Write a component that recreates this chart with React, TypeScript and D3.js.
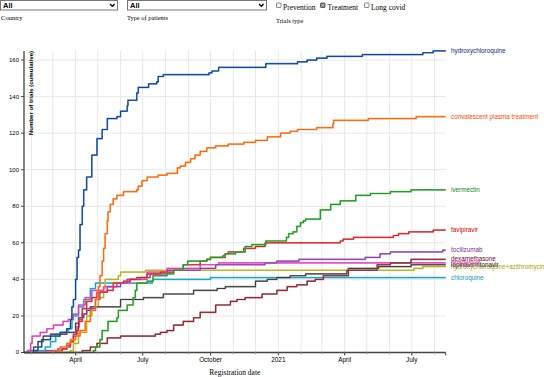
import React from "react";
import * as d3 from "d3";

const START = "2020-01-22";
const END = "2021-08-16";

const hydroxychloroquine: [string, number][] = [
  ["2020-02-04", 1], ["2020-02-10", 3], ["2020-02-15", 7], ["2020-02-27", 9], ["2020-03-11", 11],
  ["2020-03-20", 13], ["2020-03-25", 18], ["2020-03-27", 25], ["2020-03-29", 29], ["2020-04-01", 40],
  ["2020-04-03", 52], ["2020-04-05", 56], ["2020-04-07", 70], ["2020-04-10", 80], ["2020-04-12", 89],
  ["2020-04-16", 96], ["2020-04-23", 108], ["2020-04-30", 117], ["2020-05-07", 122], ["2020-05-14", 128],
  ["2020-05-27", 129], ["2020-06-01", 132], ["2020-06-10", 135], ["2020-06-11", 138], ["2020-06-23", 142],
  ["2020-06-25", 145], ["2020-07-09", 147], ["2020-07-20", 148], ["2020-07-22", 151], ["2020-07-29", 152],
  ["2020-09-29", 153], ["2020-10-03", 154], ["2020-10-12", 156], ["2020-12-15", 158], ["2021-01-27", 159],
  ["2021-02-09", 160], ["2021-02-22", 161], ["2021-03-08", 162], ["2021-04-25", 163], ["2021-07-16", 164],
  ["2021-07-30", 165],
];

const convalescentPlasma: [string, number][] = [
  ["2020-03-02", 1], ["2020-03-11", 3], ["2020-03-20", 5], ["2020-03-25", 7], ["2020-04-01", 9],
  ["2020-04-07", 12], ["2020-04-14", 17], ["2020-04-21", 23], ["2020-04-28", 29], ["2020-05-02", 36],
  ["2020-05-04", 42], ["2020-05-07", 50], ["2020-05-09", 57], ["2020-05-11", 65], ["2020-05-14", 72],
  ["2020-05-15", 77], ["2020-05-18", 81], ["2020-05-22", 84], ["2020-05-27", 86], ["2020-06-05", 88],
  ["2020-06-23", 89], ["2020-06-25", 91], ["2020-06-30", 94], ["2020-07-07", 96], ["2020-07-22", 97],
  ["2020-08-03", 98], ["2020-08-17", 101], ["2020-08-21", 102], ["2020-08-28", 104], ["2020-09-04", 106],
  ["2020-09-10", 108], ["2020-09-17", 110], ["2020-09-26", 112], ["2020-10-08", 113], ["2020-10-25", 114],
  ["2020-11-15", 115], ["2020-12-01", 116], ["2020-12-17", 118], ["2021-01-04", 120], ["2021-01-17", 121],
  ["2021-01-27", 122], ["2021-02-22", 123], ["2021-03-16", 125], ["2021-03-17", 127], ["2021-05-03", 128],
  ["2021-07-07", 129],
];

const ivermectin: [string, number][] = [
  ["2020-04-25", 1], ["2020-04-28", 3], ["2020-05-04", 7], ["2020-05-07", 12], ["2020-05-15", 17],
  ["2020-05-27", 19], ["2020-05-29", 23], ["2020-06-10", 26], ["2020-06-18", 30], ["2020-06-21", 34],
  ["2020-06-23", 38], ["2020-07-07", 39], ["2020-07-15", 42], ["2020-08-03", 43], ["2020-08-12", 45],
  ["2020-08-25", 48], ["2020-08-31", 50], ["2020-09-26", 51], ["2020-10-01", 52], ["2020-10-18", 53],
  ["2020-10-21", 54], ["2020-11-04", 55], ["2020-11-17", 58], ["2020-11-26", 59], ["2020-12-15", 61],
  ["2021-01-12", 63], ["2021-01-15", 65], ["2021-01-21", 66], ["2021-01-26", 69], ["2021-01-31", 71],
  ["2021-02-04", 72], ["2021-02-07", 73], ["2021-02-27", 78], ["2021-03-13", 81], ["2021-03-26", 83],
  ["2021-04-16", 86], ["2021-05-06", 87], ["2021-06-02", 88], ["2021-06-30", 89],
];

const favipiravir: [string, number][] = [
  ["2020-03-05", 1], ["2020-03-14", 2], ["2020-03-20", 4], ["2020-03-25", 6], ["2020-03-29", 9],
  ["2020-04-02", 12], ["2020-04-05", 17], ["2020-04-10", 24], ["2020-04-16", 28], ["2020-04-23", 30],
  ["2020-04-30", 33], ["2020-05-14", 34], ["2020-05-22", 38], ["2020-06-05", 39], ["2020-06-14", 40],
  ["2020-06-23", 41], ["2020-07-07", 43], ["2020-07-25", 44], ["2020-08-12", 45], ["2020-08-25", 48],
  ["2020-09-17", 50], ["2020-09-26", 51], ["2020-10-01", 52], ["2020-10-21", 54], ["2020-10-25", 55],
  ["2020-11-15", 57], ["2020-12-01", 58], ["2020-12-14", 60], ["2021-03-26", 61], ["2021-03-30", 62],
  ["2021-04-13", 63], ["2021-06-06", 64], ["2021-06-13", 65], ["2021-06-27", 66], ["2021-07-30", 67],
];

const tocilizumab: [string, number][] = [
  ["2020-02-20", 1], ["2020-03-08", 2], ["2020-03-20", 3], ["2020-03-25", 6], ["2020-03-29", 10],
  ["2020-04-03", 14], ["2020-04-06", 18], ["2020-04-10", 21], ["2020-04-16", 24], ["2020-04-28", 29],
  ["2020-05-04", 33], ["2020-05-14", 36], ["2020-06-01", 38], ["2020-06-10", 40], ["2020-06-28", 41],
  ["2020-07-11", 43], ["2020-08-03", 45], ["2020-09-17", 46], ["2020-10-08", 48], ["2020-12-14", 49],
  ["2020-12-30", 50], ["2021-01-29", 51], ["2021-04-29", 52], ["2021-05-19", 54], ["2021-06-02", 55],
  ["2021-08-12", 56],
];

const dexamethasone: [string, number][] = [
  ["2020-04-10", 1], ["2020-04-21", 3], ["2020-04-30", 5], ["2020-05-14", 8], ["2020-06-01", 9],
  ["2020-07-18", 10], ["2020-07-25", 11], ["2020-08-03", 12], ["2020-08-12", 15], ["2020-08-25", 17],
  ["2020-09-08", 19], ["2020-09-17", 22], ["2020-10-08", 26], ["2020-10-28", 28], ["2020-11-06", 29],
  ["2020-11-17", 30], ["2020-12-10", 32], ["2020-12-30", 34], ["2021-01-13", 36], ["2021-01-26", 37],
  ["2021-02-09", 39], ["2021-02-20", 40], ["2021-03-03", 42], ["2021-04-06", 45], ["2021-05-15", 48],
  ["2021-06-02", 49], ["2021-06-30", 51],
];

const remdesivir: [string, number][] = [
  ["2020-01-27", 1], ["2020-01-31", 5], ["2020-02-02", 9], ["2020-02-13", 11], ["2020-02-22", 13],
  ["2020-03-02", 15], ["2020-03-15", 17], ["2020-03-22", 18], ["2020-03-29", 21], ["2020-04-05", 26],
  ["2020-04-14", 30], ["2020-04-23", 34], ["2020-05-09", 36], ["2020-05-27", 38], ["2020-06-14", 40],
  ["2020-07-07", 44], ["2020-08-03", 46], ["2020-09-17", 48], ["2020-10-12", 49],
];

const lopinavir: [string, number][] = [
  ["2020-01-27", 1], ["2020-02-04", 3], ["2020-02-10", 6], ["2020-02-17", 9], ["2020-02-27", 10],
  ["2020-03-20", 11], ["2020-04-01", 16], ["2020-04-05", 19], ["2020-04-12", 21], ["2020-04-16", 23],
  ["2020-04-21", 25], ["2020-06-01", 29], ["2020-07-02", 30], ["2020-07-29", 32], ["2020-09-08", 34],
  ["2020-10-10", 35], ["2020-10-21", 36], ["2020-12-01", 39], ["2020-12-17", 40], ["2020-12-30", 41],
  ["2021-01-17", 42], ["2021-02-07", 43], ["2021-04-04", 45], ["2021-04-06", 46], ["2021-05-17", 47],
  ["2021-06-30", 48],
];

const hcqAzithromycin: [string, number][] = [
  ["2020-03-25", 1], ["2020-03-29", 5], ["2020-04-05", 11], ["2020-04-16", 20], ["2020-04-23", 25],
  ["2020-05-02", 30], ["2020-05-09", 35], ["2020-05-11", 40], ["2020-05-29", 42], ["2020-06-01", 44],
  ["2020-07-05", 45], ["2021-07-04", 46], ["2021-07-16", 47],
];

const chloroquine: [string, number][] = [
  ["2020-02-06", 1], ["2020-02-20", 3], ["2020-02-27", 6], ["2020-03-05", 10], ["2020-03-14", 11],
  ["2020-03-22", 13], ["2020-03-27", 20], ["2020-04-05", 25], ["2020-04-12", 29], ["2020-04-21", 35],
  ["2020-04-28", 38], ["2020-07-14", 39], ["2020-07-15", 40], ["2020-10-01", 41],
];

const SERIES = [
  { name: "chloroquine", data: chloroquine, dark: "#0a97c4", light: "#45c4e6" },
  { name: "hydroxychloroquine+azithromycin", data: hcqAzithromycin, dark: "#aaa400", light: "#d3cf4a" },
  { name: "lopinavir/ritonavir", data: lopinavir, dark: "#222222", light: "#8e8e8e" },
  { name: "remdesivir", data: remdesivir, dark: "#e020b0", light: "#f07ad0" },
  { name: "dexamethasone", data: dexamethasone, dark: "#7d0022", light: "#b0766a" },
  { name: "tocilizumab", data: tocilizumab, dark: "#7a1fa0", light: "#b584d6" },
  { name: "favipiravir", data: favipiravir, dark: "#d00000", light: "#ee7070" },
  { name: "ivermectin", data: ivermectin, dark: "#0a8a0a", light: "#5cbb5c" },
  { name: "convalescent plasma treatment", data: convalescentPlasma, dark: "#ff4a00", light: "#ffa040" },
  { name: "hydroxychloroquine", data: hydroxychloroquine, dark: "#0b1f7c", light: "#3d8fd1" },
];

const Y_TICKS = [0, 20, 40, 60, 80, 100, 120, 140, 160];
const MONTH_NAMES = ["January", "February", "March", "April", "May", "June", "July", "August", "September", "October", "November", "December"];

const SANS = "'Liberation Sans', Arial, sans-serif";
const SERIF = "'Liberation Serif', 'Times New Roman', serif";

export default function App() {
  const parse = d3.utcParse("%Y-%m-%d");
  const t0 = parse(START) as Date;
  const t1 = parse(END) as Date;
  const maxV = d3.max(SERIES, (s) => d3.max(s.data, (d) => d[1]) as number) as number;

  const left = 24, right = 445.7, bottom = 352.5, top = 50.9;
  const x = d3.scaleUtc().domain([t0, t1]).range([left, right]);
  const y = d3.scaleLinear().domain([0, maxV]).range([bottom, top]);

  const months = d3.utcMonth.range(d3.utcMonth.ceil(t0), t1);
  const quarters = d3.utcMonth.every(3)!.range(t0, t1);

  const line = d3
    .line<[Date, number]>()
    .x((d) => x(d[0]))
    .y((d) => y(d[1]))
    .curve(d3.curveStepAfter);

  const paths = SERIES.map((s) => {
    const pts: [Date, number][] = [[t0, 0], ...s.data.map((d) => [parse(d[0]) as Date, d[1]] as [Date, number])];
    pts.push([t1, s.data[s.data.length - 1][1]]);
    return { ...s, d: line(pts) as string, last: s.data[s.data.length - 1][1] };
  });

  const fmt = (d: Date) => (d.getUTCMonth() === 0 ? String(d.getUTCFullYear()) : MONTH_NAMES[d.getUTCMonth()]);

  return (
    <svg
      width={544}
      height={377}
      style={{ position: "absolute", left: 0, top: 0, background: "#fff" }}
    >
      {/* controls */}
      <g>
        <rect x={0.5} y={0.5} width={117} height={9.5} fill="#fff" stroke="#767676" />
        <text x={3} y={8.3} fontFamily={SANS} fontSize={7.5} fontWeight="bold" fill="#000">All</text>
        <path d="M110,4 l2.3,2.3 l2.3,-2.3" fill="none" stroke="#000" strokeWidth={1.3} />
        <rect x={127.5} y={0.5} width={139} height={9.5} fill="#fff" stroke="#767676" />
        <text x={130} y={8.3} fontFamily={SANS} fontSize={7.5} fontWeight="bold" fill="#000">All</text>
        <path d="M259,4 l2.3,2.3 l2.3,-2.3" fill="none" stroke="#000" strokeWidth={1.3} />

        <rect x={276.5} y={3} width={4.5} height={4.5} fill="#fff" stroke="#666" strokeWidth={0.8} rx={0.6} />
        <text x={283} y={9.5} fontFamily={SERIF} fontSize={7.5} fill="#000">Prevention</text>
        <rect x={320.5} y={3} width={4.5} height={4.5} fill="#777" stroke="#444" strokeWidth={0.8} rx={0.6} />
        <path d="M321.3,3.8 l3,3 M324.3,3.8 l-3,3" stroke="#ddd" strokeWidth={0.7} />
        <text x={327.5} y={9.5} fontFamily={SERIF} fontSize={7.5} fill="#000">Treatment</text>
        <rect x={364.5} y={3} width={4.5} height={4.5} fill="#fff" stroke="#666" strokeWidth={0.8} rx={0.6} />
        <text x={371} y={9.5} fontFamily={SERIF} fontSize={7.5} fill="#000">Long covid</text>

        <text x={1} y={19.5} fontFamily={SERIF} fontSize={6.6} fill="#000">Country</text>
        <text x={127} y={19.5} fontFamily={SERIF} fontSize={6.4} fill="#000">Type of patients</text>
        <text x={276} y={23} fontFamily={SERIF} fontSize={6.4} fill="#000">Trials type</text>
      </g>

      {/* grid */}
      <g>
        {months.map((m, i) => (
          <line key={"gv" + i} x1={x(m)} x2={x(m)} y1={top} y2={bottom} stroke="#e8e8e8" strokeWidth={1} />
        ))}
        {Y_TICKS.filter((t) => t > 0).map((t) => (
          <line key={"gh" + t} x1={left} x2={right} y1={y(t)} y2={y(t)} stroke="#e8e8e8" strokeWidth={1} />
        ))}
      </g>

      {/* series */}
      <g fill="none">
        {paths.map((p) => (
          <g key={p.name}>
            <path d={p.d} stroke={p.light} strokeWidth={1.7} strokeOpacity={0.9} />
            <path d={p.d} stroke={p.dark} strokeWidth={0.8} />
          </g>
        ))}
      </g>

      {/* labels */}
      <g fontFamily={SANS} fontSize={6.3}>
        {paths.map((p) => (
          <text key={"l" + p.name} x={451} y={y(p.last)} dy="0.33em" fill={p.dark}>
            {p.name}
          </text>
        ))}
      </g>

      {/* axes */}
      <g>
        <line x1={left} x2={left} y1={top} y2={bottom} stroke="#444" strokeWidth={1.3} />
        <line x1={left} x2={right} y1={bottom} y2={bottom} stroke="#444" strokeWidth={1.3} />
        {Y_TICKS.map((t) => (
          <g key={"yt" + t}>
            <line x1={left - 3} x2={left} y1={y(t)} y2={y(t)} stroke="#444" />
            <text x={left - 5} y={y(t)} dy="0.33em" textAnchor="end" fontFamily={SANS} fontSize={6} fill="#000">
              {t}
            </text>
          </g>
        ))}
        {months.map((m, i) => (
          <line key={"mt" + i} x1={x(m)} x2={x(m)} y1={bottom} y2={bottom + 2} stroke="#aaa" />
        ))}
        <line x1={right} x2={right} y1={bottom} y2={bottom + 3} stroke="#444" />
        {quarters.map((q, i) => (
          <g key={"xt" + i}>
            <line x1={x(q)} x2={x(q)} y1={bottom} y2={bottom + 3} stroke="#444" />
            <text x={x(q)} y={362} textAnchor="middle" fontFamily={SANS} fontSize={6.4} fill="#000">
              {fmt(q)}
            </text>
          </g>
        ))}
        <text
          transform={`translate(33,${top}) rotate(-90)`}
          textAnchor="end"
          fontFamily={SANS}
          fontSize={6.1}
          fontWeight="bold"
          fill="#000"
        >
          Number of trials (cumulative)
        </text>
        <text x={(left + right) / 2} y={375} textAnchor="middle" fontFamily={SERIF} fontSize={7.5} fill="#000">
          Registration date
        </text>
      </g>
    </svg>
  );
}
